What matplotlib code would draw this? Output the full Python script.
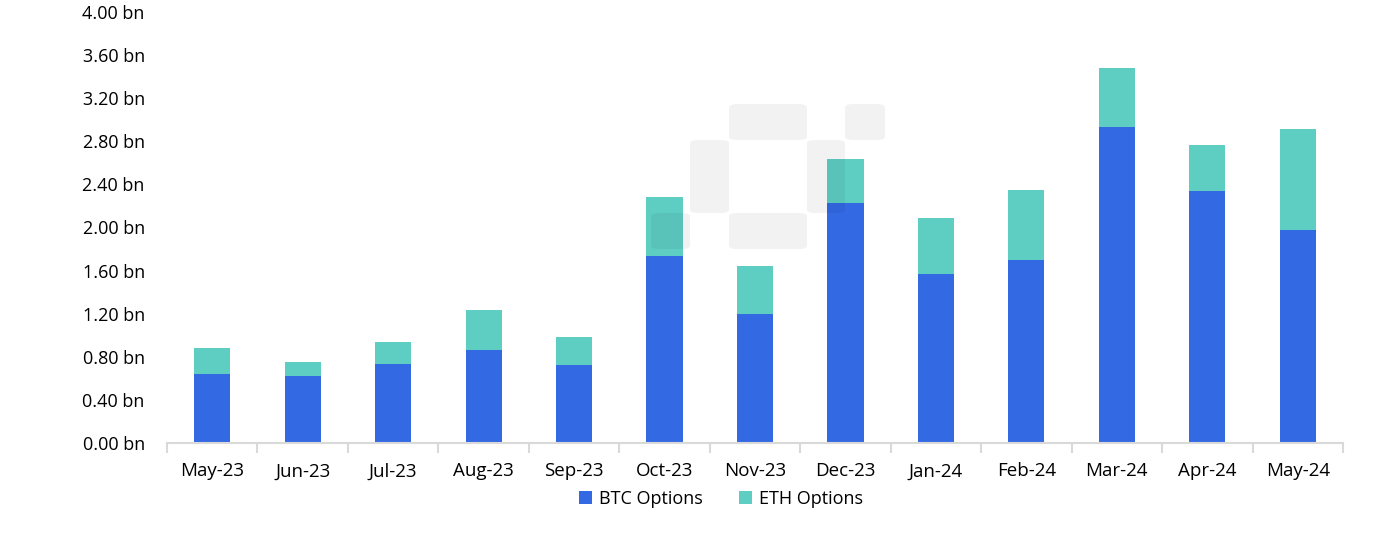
import matplotlib.pyplot as plt
from matplotlib.patches import FancyBboxPatch
import numpy as np

# datos (miles de millones USD)
meses = ['May-23', 'Jun-23', 'Jul-23', 'Aug-23', 'Sep-23', 'Oct-23', 'Nov-23',
         'Dec-23', 'Jan-24', 'Feb-24', 'Mar-24', 'Apr-24', 'May-24']
btc = [0.64, 0.62, 0.73, 0.86, 0.72, 1.74, 1.20, 2.23, 1.57, 1.70, 2.93, 2.34, 1.98]
eth = [0.24, 0.13, 0.21, 0.37, 0.26, 0.54, 0.44, 0.41, 0.52, 0.65, 0.55, 0.43, 0.93]
yticks = [0.0, 0.4, 0.8, 1.2, 1.6, 2.0, 2.4, 2.8, 3.2, 3.6, 4.0]

color_btc = '#3369e3'
color_eth = '#5ecec3'
eje_gris = '#d9d9d9'

plt.rcParams['font.family'] = ['Open Sans', 'DejaVu Sans']

W, H = 1388, 545
fig = plt.figure(figsize=(W / 100, H / 100), dpi=100)
ax = fig.add_axes([167 / W, 1 - 443 / H, (1343 - 167) / W, (443 - 12) / H])

x = np.arange(len(meses))
ax.bar(x, btc, width=0.40, color=color_btc, label='BTC Options', zorder=2)
ax.bar(x, eth, width=0.40, bottom=btc, color=color_eth, label='ETH Options', zorder=2)

ax.set_xlim(-0.5, len(meses) - 0.5)
ax.set_ylim(0, 4.0)
ax.set_yticks(yticks)
ax.set_yticklabels([f'{v:.2f} bn' for v in yticks], fontsize=13)
ax.set_xticks(x)
ax.set_xticklabels(meses, fontsize=13.5)
ax.set_xticks(np.arange(-0.5, len(meses), 1.0), minor=True)

ax.tick_params(axis='y', length=0, pad=16)
ax.tick_params(axis='x', which='major', length=0, pad=14)
ax.tick_params(axis='x', which='minor', length=7, width=1.5, color=eje_gris)

for lado in ['top', 'right', 'left']:
    ax.spines[lado].set_visible(False)
ax.spines['bottom'].set_color(eje_gris)
ax.spines['bottom'].set_linewidth(1.5)

# marca de agua (bloques redondeados)
piezas = [(729, 807, 104, 140), (845, 885, 104, 140), (690, 729, 140, 213),
          (807, 845, 140, 213), (651, 690, 213, 249), (729, 807, 213, 249)]
for x0, x1, y0, y1 in piezas:
    p = FancyBboxPatch((x0 / W, 1 - y1 / H), (x1 - x0) / W, (y1 - y0) / H,
                       boxstyle='round,pad=0,rounding_size=0.006',
                       transform=fig.transFigure, facecolor='black', alpha=0.05,
                       edgecolor='none', zorder=5)
    fig.add_artist(p)

fig.legend(loc='center', bbox_to_anchor=(721 / W, 1 - 499 / H), ncol=2, frameon=False,
           fontsize=13, handlelength=0.7, handleheight=0.7, handletextpad=0.4,
           columnspacing=2.0)

fig.savefig('out.png', dpi=100)
